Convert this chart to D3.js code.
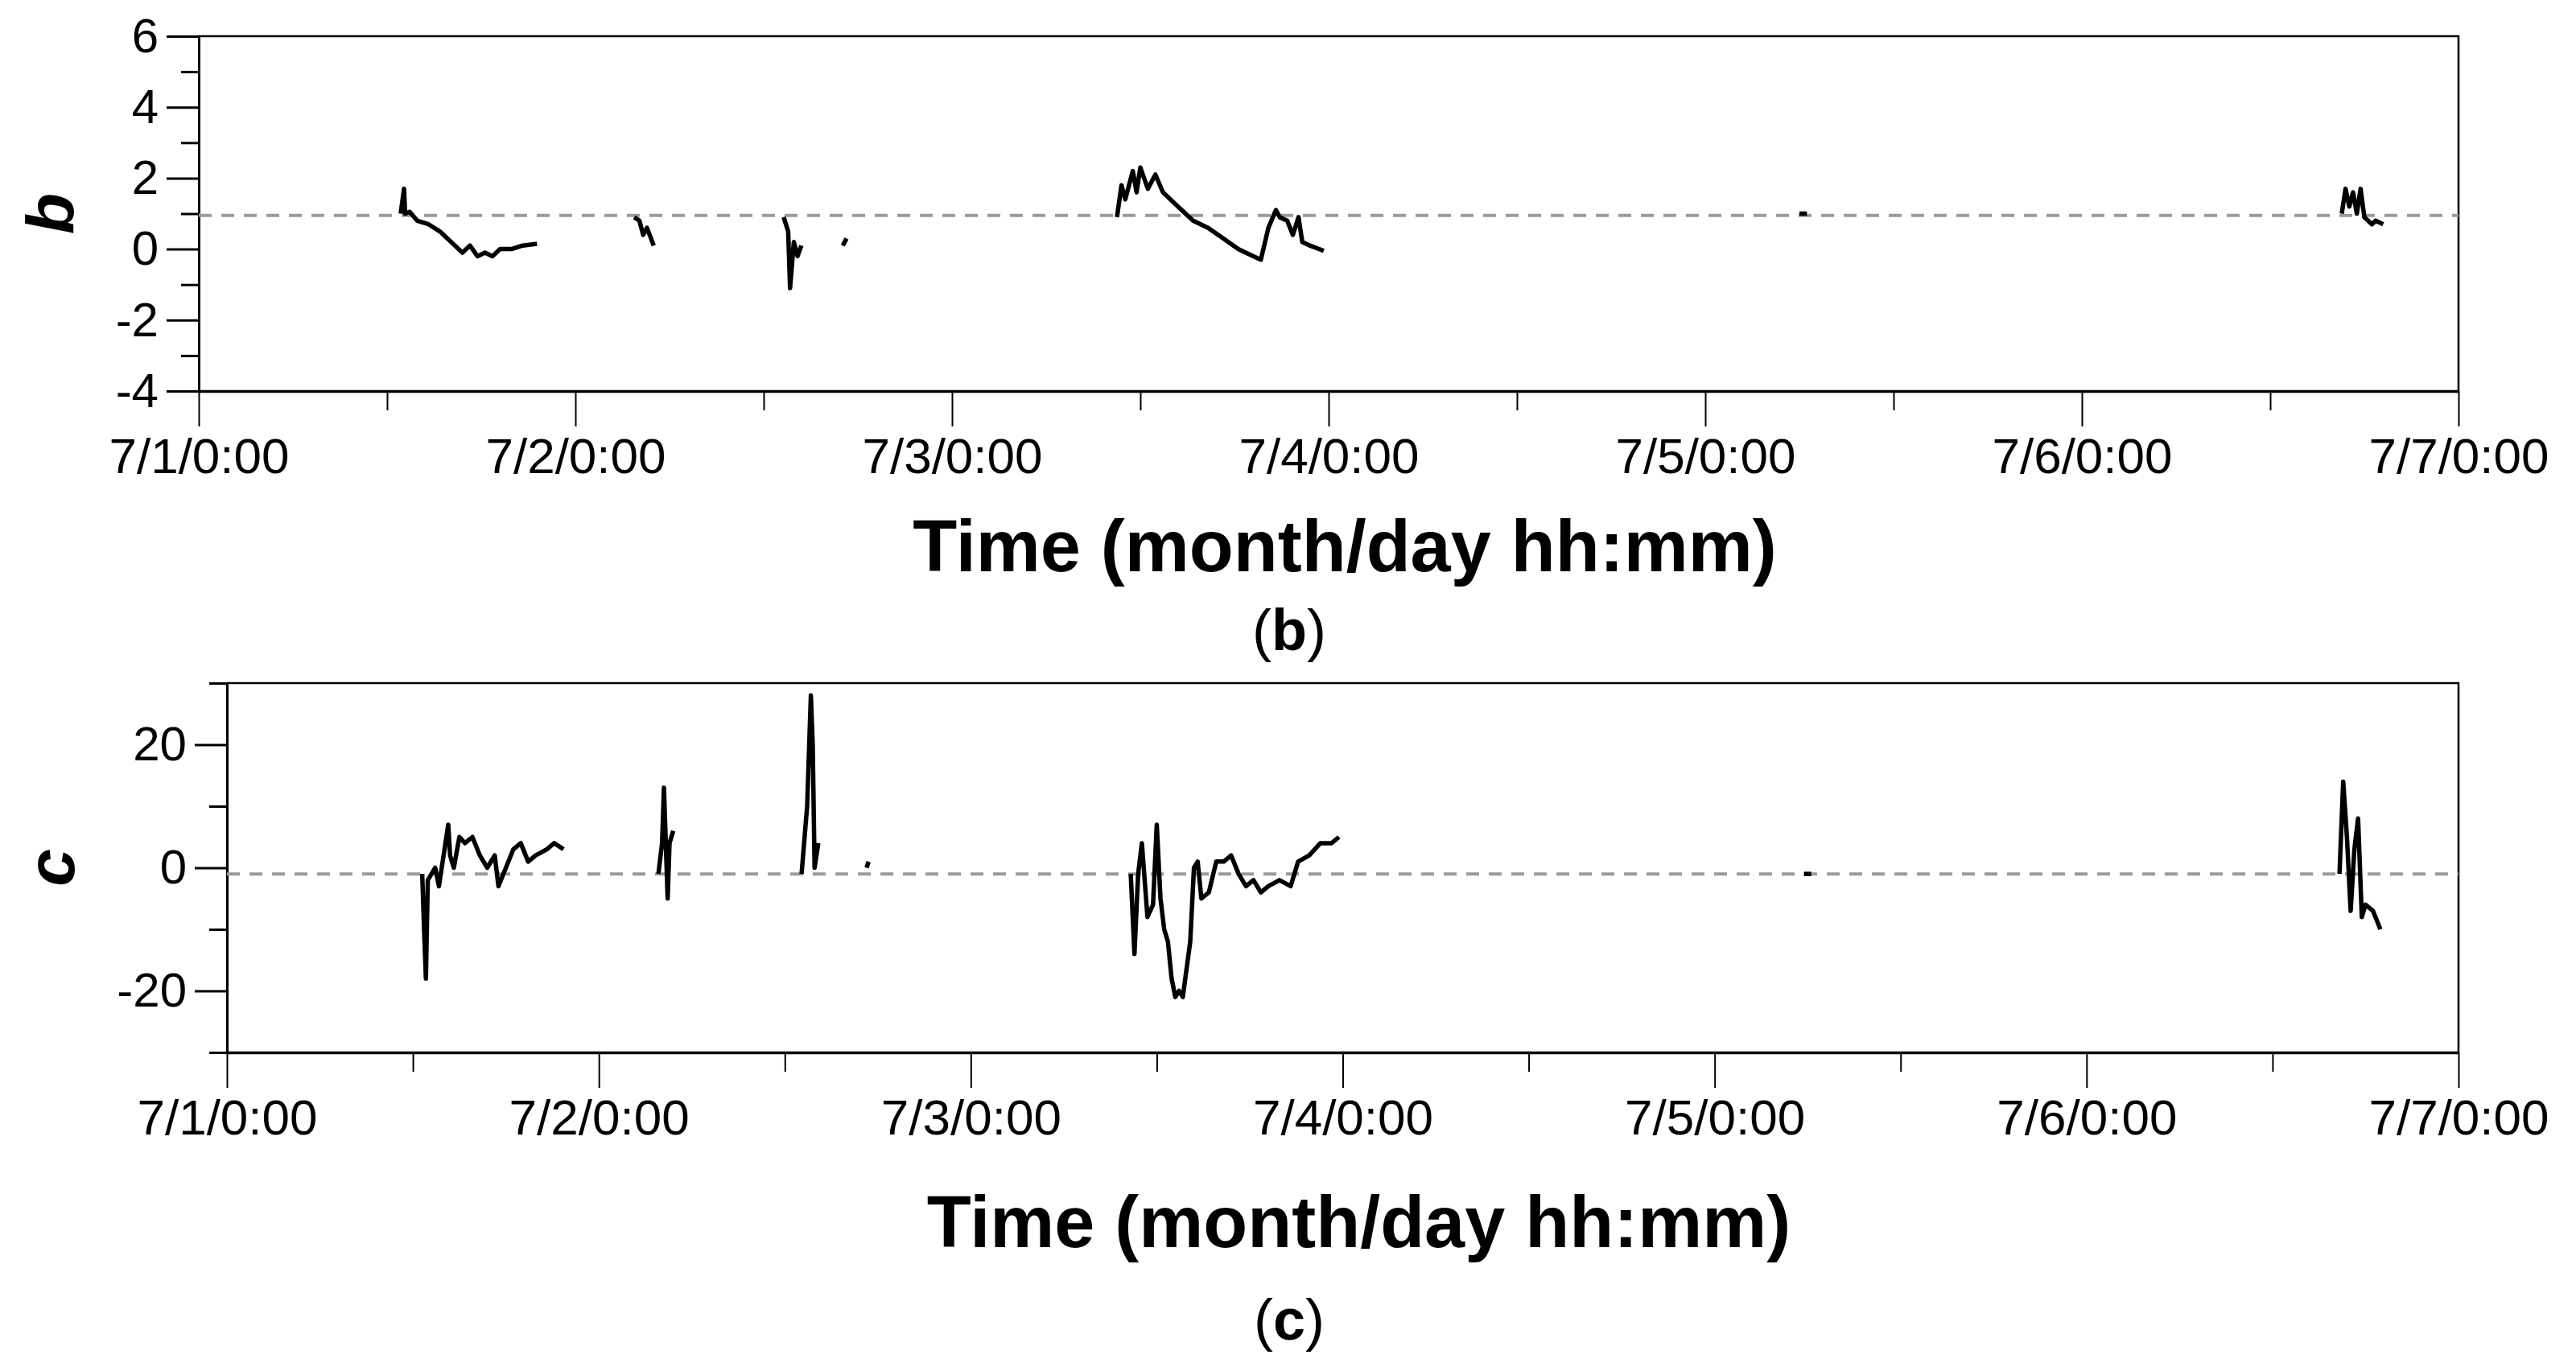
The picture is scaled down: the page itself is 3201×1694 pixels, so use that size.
<!DOCTYPE html>
<html>
<head>
<meta charset="utf-8">
<script src="https://cdn.jsdelivr.net/npm/d3@7"></script>
<style>
  body { margin: 0; background: #fff; }
  text { font-family: "Liberation Sans", Arial, sans-serif; }
</style>
</head>
<body>
<div id="chart"></div>
<script>
// x values are days since 7/1 0:00; each array is one continuous stretch of record
const xTickLabels = ["7/1/0:00", "7/2/0:00", "7/3/0:00", "7/4/0:00", "7/5/0:00", "7/6/0:00", "7/7/0:00"];

const bSegments = [
  [[0.536, 1.0], [0.545, 1.7], [0.548, 1.0], [0.56, 1.05], [0.58, 0.8], [0.61, 0.7], [0.64, 0.5], [0.67, 0.2], [0.70, -0.1], [0.72, 0.1], [0.74, -0.2], [0.76, -0.1], [0.78, -0.2], [0.80, 0.0], [0.83, 0.0], [0.86, 0.1], [0.898, 0.15]],
  [[1.156, 0.9], [1.17, 0.8], [1.18, 0.4], [1.19, 0.6], [1.208, 0.1]],
  [[1.553, 0.9], [1.565, 0.5], [1.57, -1.1], [1.58, 0.2], [1.59, -0.2], [1.60, 0.1]],
  [[1.71, 0.1], [1.72, 0.3]],
  [[2.438, 0.9], [2.45, 1.8], [2.46, 1.4], [2.48, 2.2], [2.49, 1.6], [2.50, 2.3], [2.52, 1.7], [2.54, 2.1], [2.56, 1.6], [2.60, 1.2], [2.64, 0.8], [2.68, 0.6], [2.72, 0.3], [2.76, 0.0], [2.80, -0.2], [2.82, -0.3], [2.84, 0.6], [2.86, 1.1], [2.87, 0.9], [2.89, 0.8], [2.905, 0.4], [2.92, 0.9], [2.93, 0.2], [2.95, 0.1], [2.987, -0.05]],
  [[4.25, 1.0], [4.27, 1.0]],
  [[5.69, 1.0], [5.70, 1.7], [5.71, 1.2], [5.72, 1.6], [5.73, 1.0], [5.74, 1.7], [5.75, 0.9], [5.77, 0.7], [5.78, 0.8], [5.80, 0.7]]
];

const cSegments = [
  [[0.525, -1], [0.53, -10], [0.535, -18], [0.54, -2], [0.55, -1], [0.56, 0], [0.57, -3], [0.58, 1], [0.595, 7], [0.60, 2], [0.61, 0], [0.625, 5], [0.64, 4], [0.66, 5], [0.68, 2], [0.70, 0], [0.72, 2], [0.73, -3], [0.75, 0], [0.77, 3], [0.79, 4], [0.81, 1], [0.83, 2], [0.86, 3], [0.88, 4], [0.905, 3]],
  [[1.16, -1], [1.17, 4], [1.175, 13], [1.185, -5], [1.19, 4], [1.20, 6]],
  [[1.545, -1], [1.56, 10], [1.57, 28], [1.575, 20], [1.58, 0], [1.59, 4]],
  [[1.72, 0], [1.725, 1]],
  [[2.43, -1], [2.44, -14], [2.45, -1], [2.46, 4], [2.475, -8], [2.49, -6], [2.50, 7], [2.51, -5], [2.52, -10], [2.53, -12], [2.54, -18], [2.55, -21], [2.56, -20], [2.57, -21], [2.59, -12], [2.60, 0], [2.61, 1], [2.62, -5], [2.64, -4], [2.66, 1], [2.68, 1], [2.70, 2], [2.72, -1], [2.74, -3], [2.76, -2], [2.78, -4], [2.80, -3], [2.83, -2], [2.86, -3], [2.88, 1], [2.91, 2], [2.94, 4], [2.97, 4], [2.99, 5]],
  [[4.24, -1], [4.26, -1]],
  [[5.68, -1], [5.69, 14], [5.70, 5], [5.71, -7], [5.72, 3], [5.73, 8], [5.74, -8], [5.75, -6], [5.77, -7], [5.79, -10]]
];

const bYLabels = [-4, -2, 0, 2, 4, 6];
const bYMinor = [-3, -1, 1, 3, 5];
const cYLabels = [-20, 0, 20];
const cYMinor = [-30, -10, 10, 30];

const bRef = 0.95;
const cRef = -1;

const W = 3201, H = 1694;
const svg = d3.select("#chart").append("svg")
  .attr("width", W).attr("height", H)
  .attr("viewBox", `0 0 ${W} ${H}`);

function drawPanel(opt) {
  const x = d3.scaleLinear().domain([0, 6]).range([opt.left, opt.right]);
  const y = d3.scaleLinear().domain(opt.yDomain).range([opt.bottom, opt.top]);
  const g = svg.append("g");

  // box: top and right edges
  g.append("path")
    .attr("d", `M${opt.left},${opt.top}H${opt.right}V${opt.bottom}`)
    .attr("fill", "none").attr("stroke", "#000").attr("stroke-width", 2.5);

  // y axis
  g.append("g").attr("transform", `translate(${opt.left},0)`)
    .call(d3.axisLeft(y).tickValues(opt.yMinor).tickSize(22).tickFormat("").tickSizeOuter(0))
    .call(s => s.select(".domain").attr("stroke-width", 3))
    .call(s => s.selectAll("line").attr("stroke-width", 3));
  g.append("g").attr("transform", `translate(${opt.left},0)`)
    .call(d3.axisLeft(y).tickValues(opt.yLabels).tickSize(40).tickPadding(10)
      .tickFormat(d => d < 0 ? "-" + Math.abs(d) : d))
    .call(s => s.select(".domain").remove())
    .call(s => s.selectAll("text").attr("font-size", 60))
    .call(s => s.selectAll("line").attr("stroke-width", 3));

  // x axis
  g.append("g").attr("transform", `translate(0,${opt.bottom})`)
    .call(d3.axisBottom(x).tickValues(d3.range(0.5, 6, 1)).tickSize(24).tickFormat("").tickSizeOuter(0))
    .call(s => s.select(".domain").attr("stroke-width", 3.5))
    .call(s => s.selectAll("line").attr("stroke-width", 2));
  g.append("g").attr("transform", `translate(0,${opt.bottom})`)
    .call(d3.axisBottom(x).tickValues(d3.range(0, 7)).tickSize(44).tickPadding(14)
      .tickFormat((d, i) => xTickLabels[i]))
    .call(s => s.select(".domain").remove())
    .call(s => s.selectAll("line").attr("stroke-width", 2))
    .call(s => s.selectAll("text").attr("font-size", 62));

  // reference line
  g.append("line")
    .attr("x1", opt.left).attr("x2", opt.right)
    .attr("y1", y(opt.ref)).attr("y2", y(opt.ref))
    .attr("stroke", "#9a9a9a").attr("stroke-width", 4).attr("stroke-dasharray", "16,12");

  const line = d3.line().x(d => x(d[0])).y(d => y(d[1]));
  opt.segments.forEach(seg => {
    g.append("path").attr("d", line(seg))
      .attr("fill", "none").attr("stroke", "#000").attr("stroke-width", 5.5)
      .attr("stroke-linejoin", "round");
  });

  // y label
  g.append("text")
    .attr("transform", `translate(${opt.yLabelX},${(opt.top + opt.bottom) / 2}) rotate(-90)`)
    .attr("text-anchor", "middle")
    .attr("font-family", "Liberation Serif, serif").attr("font-style", "italic").attr("font-weight", "bold")
    .attr("font-size", 84).text(opt.yLabel);

  // x title
  g.append("text")
    .attr("x", (opt.left + opt.right) / 2 + 20).attr("y", opt.titleY)
    .attr("text-anchor", "middle").attr("font-weight", "bold").attr("font-size", 90)
    .text("Time (month/day hh:mm)");

  // panel letter
  const cap = g.append("text")
    .attr("x", 1602).attr("y", opt.capY)
    .attr("text-anchor", "middle").attr("font-family", "Liberation Serif, serif").attr("font-size", 72);
  cap.append("tspan").text("(");
  cap.append("tspan").attr("font-weight", "bold").text(opt.yLabel);
  cap.append("tspan").text(")");
}

drawPanel({
  left: 247, right: 3055, top: 45, bottom: 486,
  yDomain: [-4, 6], yLabels: bYLabels, yMinor: bYMinor,
  ref: bRef, segments: bSegments, yLabel: "b", yLabelX: 92,
  titleY: 710, capY: 808
});

drawPanel({
  left: 282, right: 3055, top: 849, bottom: 1308,
  yDomain: [-30, 30], yLabels: cYLabels, yMinor: cYMinor,
  ref: cRef, segments: cSegments, yLabel: "c", yLabelX: 92,
  titleY: 1550, capY: 1665
});
</script>
</body>
</html>
